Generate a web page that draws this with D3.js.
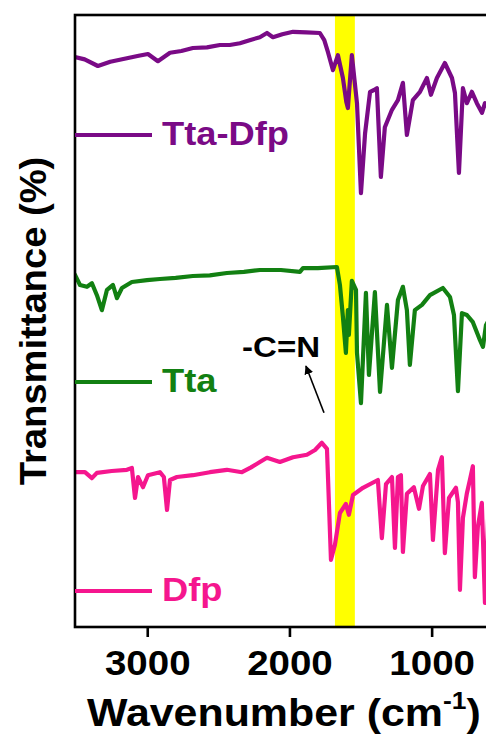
<!DOCTYPE html>
<html>
<head>
<meta charset="utf-8">
<script src="https://cdn.jsdelivr.net/npm/d3@7"></script>
<style>
  body { margin: 0; background: #fff; }
  svg { display: block; }
  text { font-family: "Liberation Sans", Arial, sans-serif; font-weight: bold; }
</style>
</head>
<body>
<script>
//FTIR spectra, [wavenumber (cm-1), transmittance (stacked, a.u.)]
let ttaDfp = [
  [3508, 95.0], [3440, 94.6], [3347, 93.5], [3260, 94.2], [3143, 94.8], [3060, 95.2],
  [2995, 95.5], [2925, 94.3], [2840, 95.7], [2760, 96.0], [2679, 96.5], [2580, 96.6],
  [2489, 97.0], [2420, 97.0], [2348, 97.3], [2280, 97.8], [2208, 98.3], [2158, 99.0],
  [2116, 98.3], [2050, 98.8], [1975, 99.2], [1880, 99.1], [1786, 99.0], [1755, 97.8],
  [1729, 95.8], [1694, 92.8], [1659, 95.3], [1624, 91.5], [1600, 87.5], [1589, 86.5],
  [1561, 95.3], [1525, 87.3], [1497, 72.3], [1468, 82.3], [1433, 89.2], [1405, 89.5],
  [1385, 89.8], [1357, 75.0], [1329, 83.3], [1279, 86.2], [1237, 87.8], [1202, 90.7],
  [1174, 82.0], [1132, 87.8], [1082, 89.2], [1033, 91.5], [1005, 88.7], [963, 91.5],
  [907, 94.0], [857, 91.5], [836, 89.0], [808, 75.7], [780, 89.8], [752, 87.3],
  [717, 89.2], [682, 87.3], [646, 85.7], [625, 87.3], [580, 86.0], [500, 87.0]
];

let tta = [
  [3508, 58.7], [3473, 57.0], [3424, 56.7], [3389, 57.3], [3354, 55.3], [3319, 52.8],
  [3283, 56.2], [3241, 57.0], [3213, 54.8], [3178, 56.5], [3108, 57.5], [3002, 57.8],
  [2911, 58.0], [2800, 58.2], [2679, 58.5], [2560, 58.6], [2440, 59.0], [2320, 59.2],
  [2208, 59.5], [2060, 59.5], [1926, 59.2], [1905, 59.8], [1800, 59.8], [1666, 60.0],
  [1645, 57.0], [1624, 51.7], [1603, 45.7], [1589, 52.8], [1582, 48.7], [1561, 57.7],
  [1532, 56.2], [1525, 45.7], [1497, 37.3], [1462, 55.7], [1441, 42.0], [1399, 55.8],
  [1363, 39.2], [1314, 53.7], [1279, 43.2], [1237, 54.5], [1202, 56.7], [1174, 52.8],
  [1153, 43.7], [1118, 52.8], [1068, 53.7], [1012, 55.3], [921, 56.5], [871, 55.0],
  [843, 52.0], [815, 39.3], [787, 52.3], [752, 52.0], [710, 50.8], [660, 47.8],
  [639, 46.7], [618, 50.3], [580, 52.0], [500, 53.0]
];

let dfp = [
  [3508, 25.8], [3438, 25.8], [3389, 24.8], [3354, 25.7], [3250, 26.0], [3143, 26.2],
  [3108, 26.5], [3086, 21.5], [3065, 25.0], [3030, 23.3], [2995, 25.3], [2911, 25.8],
  [2883, 25.0], [2861, 19.5], [2840, 24.5], [2791, 25.0], [2679, 25.3], [2560, 25.8],
  [2440, 26.2], [2334, 25.8], [2270, 26.6], [2208, 27.5], [2158, 28.2], [2067, 27.5],
  [1975, 28.3], [1877, 28.7], [1820, 29.5], [1772, 30.7], [1736, 29.7], [1708, 11.2],
  [1680, 13.7], [1645, 19.0], [1603, 20.5], [1582, 18.7], [1553, 22.0], [1483, 23.2],
  [1378, 24.5], [1350, 14.8], [1321, 23.8], [1279, 25.0], [1258, 13.2], [1237, 25.0],
  [1216, 25.3], [1202, 12.5], [1174, 22.2], [1125, 23.3], [1089, 19.7], [1061, 23.5],
  [1012, 25.5], [991, 14.5], [955, 26.2], [928, 28.3], [907, 12.3], [878, 21.5],
  [829, 23.2], [815, 20.8], [801, 6.2], [780, 18.2], [752, 22.3], [731, 24.5],
  [710, 26.8], [696, 8.3], [675, 16.7], [647, 20.7], [625, 4.0], [600, 20.0], [500, 22.0]
];

let seriesNames = ["Tta-Dfp", "Tta", "Dfp"];
let seriesColors = ["#7a0a86", "#128012", "#f5168e"];
let seriesData = [ttaDfp, tta, dfp];

//highlighted imine band (cm-1)
let bandRange = [1680, 1540];
let xTicks = [3000, 2000, 1000];

//annotation: label and arrow in data units
let imineLabel = { text: "-C=N", wn: 2333, t: 45.0 };
let imineArrow = { from: [1757, 35.7], to: [1884, 43.5] };

//set up size and margin
let width = 486;
let height = 740;
let margin = { top: 15, left: 75, bottom: 113 };
let stretch = 1.1;

let svg = d3.select("body").
append("svg").
attr("width", width).
attr("height", height);

let xScale = d3.scaleLinear().
domain([3508, 400]).
range([margin.left, margin.left + 3108 * 0.1422]);

let yScale = d3.scaleLinear().
domain([0, 102]).
range([height - margin.bottom, margin.top]);

let x0 = xScale.range()[0];
let x1 = xScale.range()[1];
let yTop = yScale.range()[1];
let yBottom = yScale.range()[0];

svg.append("clipPath").
attr("id", "plot-clip").
append("rect").
attr("x", x0).
attr("y", yTop).
attr("width", x1 - x0).
attr("height", yBottom - yTop);

//yellow band
svg.append("rect").
attr("x", xScale(bandRange[0])).
attr("y", yTop).
attr("width", xScale(bandRange[1]) - xScale(bandRange[0])).
attr("height", yBottom - yTop).
attr("fill", "#ffff00");

//spectra
let line = d3.line().
x(d => xScale(d[0])).
y(d => yScale(d[1]));

svg.append("g").
attr("clip-path", "url(#plot-clip)").
selectAll("path").
data(seriesData).
enter().
append("path").
attr("d", line).
attr("fill", "none").
attr("stroke", (d, i) => seriesColors[i]).
attr("stroke-width", 4.2).
attr("stroke-linejoin", "round").
attr("stroke-linecap", "round");

//frame
svg.append("rect").
attr("x", x0).
attr("y", yTop).
attr("width", x1 - x0).
attr("height", yBottom - yTop).
attr("fill", "none").
attr("stroke", "#000").
attr("stroke-width", 2.6);

//x axis
let xAxis = d3.axisBottom(xScale).
tickValues(xTicks).
tickSize(10).
tickSizeOuter(0).
tickFormat(d3.format("d"));

let gx = svg.append("g").
attr("transform", "translate(0," + yBottom + ")").
call(xAxis);

gx.select(".domain").remove();
gx.selectAll(".tick line").
attr("stroke", "#000").
attr("stroke-width", 2.6);
gx.selectAll(".tick text").
attr("y", 48).
attr("dy", 0).
attr("fill", "#000").
attr("transform", "scale(" + stretch + ",1)").
style("font-size", "35px");

//axis titles
let xTitle = svg.append("text").
attr("transform", "translate(87,726) scale(" + stretch + ",1)").
style("font-size", "39px");
xTitle.append("tspan").text("Wavenumber (cm");
xTitle.append("tspan").attr("dy", -17).style("font-size", "24px").text("-1");
xTitle.append("tspan").attr("dy", 17).text(")");

svg.append("text").
attr("transform", "translate(46," + (yTop + yBottom) / 2 + ") rotate(-90) scale(1.06,1)").
attr("text-anchor", "middle").
style("font-size", "36px").
text("Transmittance (%)");

//legend
let legendY = [135, 382, 591];

let legend = svg.append("g").
selectAll("g").
data(seriesNames).
enter().
append("g");

legend.append("line").
attr("x1", x0).
attr("x2", 152).
attr("y1", (d, i) => legendY[i]).
attr("y2", (d, i) => legendY[i]).
attr("stroke", (d, i) => seriesColors[i]).
attr("stroke-width", 4.2);

legend.append("text").
attr("transform", (d, i) => "translate(162," + (legendY[i] + 10) + ") scale(" + stretch + ",1)").
attr("fill", (d, i) => seriesColors[i]).
style("font-size", "33px").
text(d => d);

//imine annotation
svg.append("defs").
append("marker").
attr("id", "arrow").
attr("viewBox", "0 0 10 10").
attr("refX", 9).
attr("refY", 5).
attr("markerWidth", 9).
attr("markerHeight", 9).
attr("orient", "auto").
attr("markerUnits", "userSpaceOnUse").
append("path").
attr("d", "M0,0L10,5L0,10Z").
attr("fill", "#000");

svg.append("line").
attr("x1", xScale(imineArrow.from[0])).
attr("y1", yScale(imineArrow.from[1])).
attr("x2", xScale(imineArrow.to[0])).
attr("y2", yScale(imineArrow.to[1])).
attr("stroke", "#000").
attr("stroke-width", 1.6).
attr("marker-end", "url(#arrow)");

svg.append("text").
attr("transform", "translate(" + xScale(imineLabel.wn) + "," + yScale(imineLabel.t) + ") scale(" + stretch + ",1)").
attr("fill", "#000").
style("font-size", "30px").
text(imineLabel.text);
</script>
</body>
</html>
